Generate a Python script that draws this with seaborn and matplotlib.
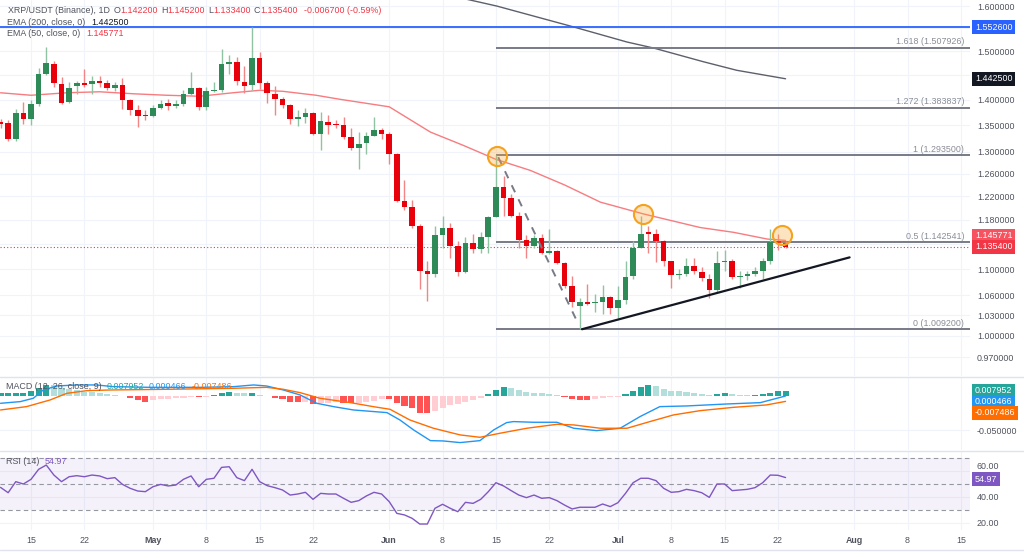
import numpy as np
import pandas as pd
import matplotlib
matplotlib.use("Agg")
import matplotlib.pyplot as plt
from matplotlib.lines import Line2D
from matplotlib.ticker import FuncFormatter, NullLocator
import seaborn as sns

start_date = "2024-04-11"
opens = [1.356, 1.354, 1.324, 1.374,
         1.362, 1.392, 1.453, 1.474, 1.431, 1.396, 1.427, 1.434, 1.431, 1.438,
         1.434, 1.424, 1.430, 1.400, 1.380, 1.369, 1.367, 1.384, 1.393, 1.388,
         1.391, 1.412, 1.424, 1.386, 1.418, 1.420, 1.474, 1.477, 1.436, 1.429,
         1.485, 1.434, 1.412, 1.401, 1.389, 1.362, 1.366, 1.374, 1.334, 1.357,
         1.352, 1.350, 1.328, 1.307, 1.316, 1.329, 1.340, 1.333, 1.296, 1.212,
         1.201, 1.169, 1.097, 1.093, 1.155, 1.167, 1.137, 1.096, 1.142, 1.132,
         1.151, 1.185, 1.237, 1.217, 1.187, 1.146, 1.136, 1.150, 1.125, 1.128,
         1.109, 1.073, 1.044, 1.049, 1.048, 1.049, 1.057, 1.040, 1.052, 1.089,
         1.134, 1.158, 1.156, 1.144, 1.112, 1.091, 1.092, 1.104, 1.096, 1.085,
         1.067, 1.111, 1.113, 1.087, 1.089, 1.093, 1.097, 1.112, 1.144, 1.1422]
highs = [1.362, 1.360, 1.382, 1.396,
         1.399, 1.465, 1.510, 1.480, 1.447, 1.436, 1.437, 1.462, 1.448, 1.448,
         1.440, 1.436, 1.445, 1.402, 1.389, 1.379, 1.389, 1.400, 1.402, 1.399,
         1.419, 1.457, 1.426, 1.426, 1.436, 1.506, 1.492, 1.488, 1.469, 1.5526,
         1.499, 1.437, 1.427, 1.406, 1.391, 1.380, 1.384, 1.376, 1.376, 1.369,
         1.361, 1.366, 1.344, 1.337, 1.337, 1.366, 1.344, 1.337, 1.298, 1.248,
         1.213, 1.173, 1.113, 1.170, 1.187, 1.174, 1.145, 1.151, 1.157, 1.159,
         1.187, 1.2935, 1.255, 1.224, 1.193, 1.154, 1.154, 1.157, 1.165, 1.130,
         1.111, 1.089, 1.056, 1.077, 1.061, 1.076, 1.059, 1.074, 1.113, 1.145,
         1.187, 1.170, 1.165, 1.147, 1.113, 1.100, 1.117, 1.117, 1.103, 1.092,
         1.129, 1.130, 1.116, 1.097, 1.097, 1.103, 1.118, 1.165, 1.157, 1.1452]
lows = [1.345, 1.321, 1.320, 1.352,
        1.350, 1.387, 1.450, 1.426, 1.392, 1.394, 1.412, 1.426, 1.411, 1.426,
        1.419, 1.418, 1.382, 1.369, 1.347, 1.360, 1.366, 1.382, 1.380, 1.384,
        1.387, 1.409, 1.380, 1.379, 1.416, 1.416, 1.453, 1.429, 1.413, 1.419,
        1.422, 1.394, 1.369, 1.384, 1.353, 1.348, 1.354, 1.331, 1.303, 1.334,
        1.344, 1.324, 1.304, 1.269, 1.296, 1.329, 1.323, 1.278, 1.210, 1.196,
        1.167, 1.069, 1.051, 1.088, 1.134, 1.118, 1.089, 1.094, 1.126, 1.126,
        1.126, 1.184, 1.187, 1.185, 1.134, 1.118, 1.134, 1.123, 1.123, 1.108,
        1.071, 1.042, 1.0092, 1.045, 1.034, 1.032, 1.032, 1.026, 1.046, 1.084,
        1.134, 1.125, 1.111, 1.105, 1.070, 1.084, 1.089, 1.093, 1.082, 1.055,
        1.065, 1.097, 1.084, 1.070, 1.083, 1.089, 1.084, 1.108, 1.130, 1.1334]
closes = [1.352, 1.324, 1.374, 1.362,
          1.391, 1.452, 1.476, 1.433, 1.394, 1.424, 1.433, 1.429, 1.438, 1.434,
          1.424, 1.430, 1.400, 1.380, 1.368, 1.368, 1.384, 1.392, 1.388, 1.391,
          1.412, 1.424, 1.386, 1.417, 1.420, 1.473, 1.477, 1.437, 1.428, 1.485,
          1.434, 1.414, 1.401, 1.390, 1.362, 1.366, 1.373, 1.333, 1.358, 1.351,
          1.351, 1.328, 1.307, 1.315, 1.329, 1.340, 1.333, 1.296, 1.212, 1.201,
          1.169, 1.097, 1.093, 1.155, 1.167, 1.137, 1.096, 1.142, 1.132, 1.151,
          1.185, 1.237, 1.217, 1.187, 1.146, 1.136, 1.150, 1.125, 1.128, 1.109,
          1.073, 1.049, 1.049, 1.047, 1.049, 1.057, 1.040, 1.052, 1.087, 1.134,
          1.156, 1.157, 1.144, 1.112, 1.091, 1.093, 1.104, 1.097, 1.086, 1.067,
          1.110, 1.113, 1.087, 1.088, 1.093, 1.097, 1.112, 1.143, 1.142, 1.1354]

# EMA-Linien (Stuetzpunkte: Tagesindex, Wert)
ema50_x = [0, 4, 8.7, 13, 17.4, 21.8, 26.1, 30.5, 34, 37, 41.4, 44.5, 51, 56.4,
           60.7, 65, 69.5, 74, 78.7, 84.3, 91.8, 96.2, 100.6, 103]
ema50_y = [1.414, 1.409, 1.414, 1.416, 1.412, 1.409, 1.407, 1.414, 1.419, 1.417,
           1.409, 1.401, 1.386, 1.337, 1.312, 1.286, 1.266, 1.240, 1.210, 1.190,
           1.167, 1.159, 1.148, 1.145771]
ema200_x = [57.7, 61.6, 65.1, 75.2, 82.2, 85.7, 92.2, 96.6, 103]
ema200_y = [1.629, 1.6138, 1.600, 1.553, 1.520, 1.507, 1.478, 1.460, 1.4425]

# Zeichnungen im Chart
swing_high = 1.5526
fib_ratios = [0, 0.5, 1, 1.272, 1.618]
fib_levels = [1.009200, 1.142541, 1.293500, 1.383837, 1.507926]
fib_start = 65
dash_x = [65.3, 75.6]
dash_y = [1.290, 1.022]
trend_x = [76.3, 111.4]
trend_y = [1.0096, 1.1184]
circle_x = [65.2, 84.3, 102.5]
circle_y = [1.293, 1.190, 1.1552]

# MACD (12, 26, 9)
macd_hist = [0.0044, 0.0049, 0.0054, 0.0054,
             0.0083, 0.0118, 0.0167, 0.0165, 0.0118, 0.0103, 0.0093, 0.0069, 0.0066, 0.0044,
             0.0034, 0.0020, 0.0005, -0.0029, -0.0054, -0.0078, -0.0054, -0.0044, -0.0034, -0.0029,
             -0.0020, -0.0005, -0.0015, -0.0010, 0.0015, 0.0054, 0.0069, 0.0054, 0.0044, 0.0054,
             0.0020, 0.0005, -0.0029, -0.0044, -0.0088, -0.0090, -0.0078, -0.0113, -0.0103, -0.0093,
             -0.0083, -0.0103, -0.0105, -0.0093, -0.0078, -0.0064, -0.0044, -0.0046, -0.0103, -0.0137,
             -0.0176, -0.0240, -0.0250, -0.0216, -0.0167, -0.0127, -0.0118, -0.0088, -0.0054, -0.0029,
             0.0034, 0.0093, 0.0142, 0.0127, 0.0093, 0.0069, 0.0054, 0.0044, 0.0034, 0.0015,
             -0.0015, -0.0044, -0.0049, -0.0054, -0.0034, -0.0025, -0.0015, -0.0005, 0.0034, 0.0083,
             0.0142, 0.0162, 0.0152, 0.0113, 0.0083, 0.0074, 0.0064, 0.0054, 0.0034, 0.0015,
             0.0034, 0.0044, 0.0034, 0.0025, 0.0020, 0.0025, 0.0034, 0.0054, 0.0074, 0.007952]
macd_x = [0, 2.6, 4.3, 5.6, 7.4, 10, 12.6, 14.8, 19.6, 26.2, 30.6, 33.2, 34.9, 37.1,
          39.3, 41.5, 43.7, 46.3, 50.7, 52.4, 54.2, 56.4, 58.1, 60.3, 62.9, 64.7,
          66.4, 67.3, 69.9, 73, 75.2, 78.2, 81.3, 83.9, 86.5, 90, 95.3, 99.7, 103]
macd_y = [-0.0103, -0.0078, -0.0029, 0.0093, 0.0152, 0.0167, 0.0167, 0.0142, 0.0132,
          0.0132, 0.0142, 0.0167, 0.0152, 0.0093, 0.0020, -0.0103, -0.0152, -0.0201,
          -0.0240, -0.0348, -0.0495, -0.0652, -0.0657, -0.0681, -0.0652, -0.0495,
          -0.0387, -0.0372, -0.0382, -0.0382, -0.0470, -0.0505, -0.0470, -0.0299,
          -0.0152, -0.0142, -0.0113, -0.0093, 0.000466]
signal_x = [0, 3.4, 6.5, 8.7, 11.3, 14.4, 21.8, 30.6, 34.9, 37.1, 39.3, 41.9, 45.9,
            48.9, 51.1, 53.7, 56.8, 60.3, 62.9, 65.5, 69.05, 73, 75.2, 78.7, 82.2,
            85.2, 88.3, 91.8, 96.2, 100.5, 103]
signal_y = [-0.0201, -0.0152, -0.0054, 0.0044, 0.0083, 0.0093, 0.0103, 0.0118, 0.0132,
            0.0103, 0.0054, -0.0029, -0.0093, -0.0152, -0.0191, -0.0348, -0.0470,
            -0.0568, -0.0603, -0.0544, -0.0470, -0.0412, -0.0421, -0.0470, -0.0470,
            -0.0372, -0.0274, -0.0211, -0.0162, -0.0127, -0.007486]

# RSI (14)
rsi = [47.4, 43.3, 51.8, 50.0,
       53.6, 61.3, 64.6, 56.9, 51.8, 55.6, 56.4, 55.6, 56.9, 56.2,
       54.1, 54.9, 49.7, 46.7, 44.6, 44.1, 47.9, 49.7, 48.5, 49.2,
       53.6, 56.2, 47.9, 53.6, 54.4, 62.8, 63.3, 54.9, 52.6, 61.3,
       51.8, 48.7, 47.2, 45.4, 41.5, 42.3, 43.6, 38.2, 42.8, 42.3,
       42.3, 39.0, 35.9, 37.2, 40.8, 43.6, 42.3, 36.4, 27.4, 26.2,
       23.6, 19.2, 19.2, 31.3, 34.4, 31.3, 28.7, 35.9, 35.1, 38.2,
       44.1, 51.0, 48.5, 44.9, 41.5, 39.5, 41.5, 39.0, 39.5, 37.2,
       33.8, 30.8, 32.1, 32.1, 32.1, 34.6, 32.6, 35.6, 42.8, 51.0,
       54.4, 54.4, 52.6, 46.7, 43.6, 44.1, 45.9, 44.9, 43.3, 39.7,
       50.0, 50.0, 44.9, 45.4, 45.9, 47.2, 51.0, 56.9, 56.7, 54.97]

# Achsen (Gitterlinien; die Beschriftungen unter den Preis-Tags bleiben leer)
price_ticks = [0.97, 1.00, 1.03, 1.06, 1.10, 1.14, 1.18, 1.22, 1.26, 1.30, 1.35,
               1.40, 1.45, 1.50, 1.55, 1.60]
hidden_ticks = [1.14, 1.45, 1.55]
macd_ticks = [-0.05]
rsi_ticks = [20, 40, 60]
tick_dates = ["2024-04-15", "2024-04-22", "2024-05-01", "2024-05-08", "2024-05-15",
              "2024-05-22", "2024-06-01", "2024-06-08", "2024-06-15", "2024-06-22",
              "2024-07-01", "2024-07-08", "2024-07-15", "2024-07-22", "2024-08-01",
              "2024-08-08", "2024-08-15"]
tick_labels = ["15", "22", "May", "8", "15", "22", "Jun", "8", "15", "22", "Jul",
               "8", "15", "22", "Aug", "8", "15"]

W, H = 1024, 557
XMIN, XMAX = -0.07, 127.2
FS = 6.4
GREEN, RED = "#2e8b57", "#e8000b"
GREEN_WICK, RED_WICK = "#8fc3a3", "#f28585"
GRID = "#f0f3fa"
TXT = "#50535e"


def px_rect(top, bottom, right=970):
    # Achsenrechteck aus Pixelkanten
    return [0, 1 - bottom / H, right / W, (bottom - top) / H]


def legend_row(fig, x_px, y_px, parts):
    """Mehrfarbige Legendenzeile, Stueck fuer Stueck gesetzt."""
    renderer = fig.canvas.get_renderer()
    x = x_px
    for text, color, gap in parts:
        t = fig.text(x / W, 1 - y_px / H, text, color=color, fontsize=FS,
                     ha="left", va="center")
        x += t.get_window_extent(renderer=renderer).width + gap


def value_tag(ax, y, text, color, dy=0):
    ax.annotate(text, xy=(1, y), xycoords=("axes fraction", "data"),
                xytext=(5, dy), textcoords="offset pixels", ha="left", va="center",
                fontsize=FS, color="white", annotation_clip=False, zorder=20,
                bbox=dict(boxstyle="square,pad=0.3", fc=color, ec="none"))


def price_fmt(v, _):
    if any(abs(v - t) < 1e-9 for t in hidden_ticks):
        return ""
    return f"{v:.6f}"


sns.set_theme(style="white")
plt.rcParams["font.family"] = ["Liberation Sans", "DejaVu Sans"]

fig = plt.figure(figsize=(W / 100, H / 100), dpi=100)
ax_p = fig.add_axes(px_rect(0, 376))
ax_m = fig.add_axes(px_rect(377, 450), sharex=ax_p)
ax_r = fig.add_axes(px_rect(451, 530), sharex=ax_p)

o, h, l, c = map(np.array, (opens, highs, lows, closes))
x = np.arange(len(c))
up = c >= o

# --- Kerzen ---
ax_p.set_yscale("log")
ax_p.vlines(x, l, h, colors=np.where(up, GREEN_WICK, RED_WICK), linewidth=1, zorder=3)
body_low = np.minimum(o, c)
body_h = np.maximum(np.abs(c - o), body_low * 0.0016)
ax_p.bar(x, body_h, bottom=body_low, width=0.74, color=np.where(up, GREEN, RED),
         linewidth=0, zorder=4)

sns.lineplot(x=ema50_x, y=ema50_y, ax=ax_p, color="#f77c80", linewidth=1, zorder=2)
sns.lineplot(x=ema200_x, y=ema200_y, ax=ax_p, color="#5d606b", linewidth=1, zorder=2)

ax_p.axhline(swing_high, color="#2962ff", linewidth=1.3, zorder=2)
ax_p.axhline(c[-1], color="#f23645", linewidth=0.8, linestyle=(0, (1, 2)), zorder=2)

for r, lvl in zip(fib_ratios, fib_levels):
    ax_p.hlines(lvl, fib_start, XMAX, color="#787b86", linewidth=1.4, zorder=2)
    ax_p.annotate(f"{r:g} ({lvl:.6f})", xy=(1, lvl), xycoords=("axes fraction", "data"),
                  xytext=(-6, 6), textcoords="offset pixels", ha="right", va="center",
                  fontsize=FS, color="#8a8d96")

ax_p.plot(dash_x, dash_y, color="#787b86", linewidth=1.4, linestyle=(0, (4, 4)), zorder=5)
ax_p.plot(trend_x, trend_y, color="#131722", linewidth=1.6, zorder=5)
ax_p.scatter(circle_x, circle_y, s=190, facecolor=(0.98, 0.65, 0.2, 0.3),
             edgecolor="#f7a21b", linewidth=1.5, zorder=6)

ax_p.set_ylim(0.9445, 1.6138)
ax_p.set_yticks(price_ticks)
ax_p.yaxis.set_minor_locator(NullLocator())
ax_p.yaxis.set_major_formatter(FuncFormatter(price_fmt))

value_tag(ax_p, swing_high, "1.552600", "#2962ff")
value_tag(ax_p, ema200_y[-1], "1.442500", "#131722")
value_tag(ax_p, ema50_y[-1], "1.145771", "#f7525f", dy=4.7)
value_tag(ax_p, c[-1], "1.135400", "#f23645")

# --- MACD ---
hist = np.array(macd_hist)
prev = np.r_[hist[0], hist[:-1]]
hist_colors = np.where(hist >= 0,
                       np.where(hist >= prev, "#26a69a", "#b2dfdb"),
                       np.where(hist <= prev, "#ff5252", "#ffcdd2"))
ax_m.bar(x, hist, width=0.8, color=hist_colors, linewidth=0, zorder=2)
sns.lineplot(x=macd_x, y=macd_y, ax=ax_m, color="#2196f3", linewidth=1, zorder=3)
sns.lineplot(x=signal_x, y=signal_y, ax=ax_m, color="#ff6d00", linewidth=1, zorder=3)
ax_m.set_ylim(-0.079, 0.0284)
ax_m.set_yticks(macd_ticks)
ax_m.yaxis.set_major_formatter(FuncFormatter(lambda v, _: f"{v:.6f}"))
value_tag(ax_m, macd_hist[-1], "0.007952", "#26a69a")
value_tag(ax_m, macd_y[-1], "0.000466", "#2196f3", dy=-6)
value_tag(ax_m, signal_y[-1], "-0.007486", "#ff6d00", dy=-11.6)

# --- RSI ---
ax_r.axhspan(30, 70, color="#7e57c2", alpha=0.08, linewidth=0)
for lvl in (30, 50, 70):
    ax_r.axhline(lvl, color="#9598a1", linewidth=0.8, linestyle=(0, (4, 3)))
sns.lineplot(x=x, y=rsi, ax=ax_r, color="#7e57c2", linewidth=1, zorder=3)
ax_r.set_ylim(14.6, 75.4)
ax_r.set_yticks(rsi_ticks)
ax_r.yaxis.set_major_formatter(FuncFormatter(lambda v, _: f"{v:.2f}"))
value_tag(ax_r, rsi[-1], "54.97", "#7e57c2", dy=-1.5)

# --- Zeitachse & Stil ---
start = pd.Timestamp(start_date)
tick_pos = [(pd.Timestamp(t) - start).days for t in tick_dates]
ax_r.set_xlim(XMIN, XMAX)
ax_r.set_xticks(tick_pos)
ax_r.set_xticklabels(tick_labels)
for lab in ax_r.get_xticklabels():
    if not lab.get_text().isdigit():
        lab.set_fontweight("bold")

for ax in (ax_p, ax_m, ax_r):
    ax.yaxis.tick_right()
    ax.grid(True, color=GRID, linewidth=0.8)
    ax.set_axisbelow(True)
    ax.set_xlabel("")
    ax.set_ylabel("")
    ax.tick_params(axis="y", length=0, pad=5, labelsize=FS, labelcolor=TXT)
    ax.tick_params(axis="x", length=0, pad=4.5, labelsize=FS, labelcolor=TXT)
    sns.despine(ax=ax, left=True, bottom=True, top=True, right=True)
ax_p.tick_params(labelbottom=False)
ax_m.tick_params(labelbottom=False)

# 60.00 sitzt knapp ueber dem RSI-Tag
fig.canvas.draw()
for t in ax_r.yaxis.get_major_ticks():
    if t.label2.get_text() == "60.00":
        t.label2.set_va("bottom")

for y_px in (376.5, 450.5, 550):
    fig.add_artist(Line2D([0, 1], [1 - y_px / H] * 2, color="#e0e3eb", linewidth=1))

# Legenden
legend_row(fig, 8, 10.5, [("XRP/USDT (Binance), 1D", TXT, 4), ("O", TXT, 0),
                          ("1.142200", "#f23645", 3), ("H", TXT, 0), ("1.145200", "#f23645", 3),
                          ("L", TXT, 0), ("1.133400", "#f23645", 3), ("C", TXT, 0),
                          ("1.135400", "#f23645", 6), ("-0.006700 (-0.59%)", "#f23645", 0)])
legend_row(fig, 7, 22.5, [("EMA (200, close, 0)", TXT, 6), ("1.442500", "#131722", 0)])
legend_row(fig, 7, 34, [("EMA (50, close, 0)", TXT, 6), ("1.145771", "#f23645", 0)])
legend_row(fig, 6, 386.7, [("MACD (12, 26, close, 9)", TXT, 5), ("0.007952", "#26a69a", 5),
                           ("0.000466", "#2196f3", 5), ("-0.007486", "#ff6d00", 0)])
legend_row(fig, 6, 461, [("RSI (14)", TXT, 5), ("54.97", "#7e57c2", 0)])

fig.savefig("out.png", dpi=100)
